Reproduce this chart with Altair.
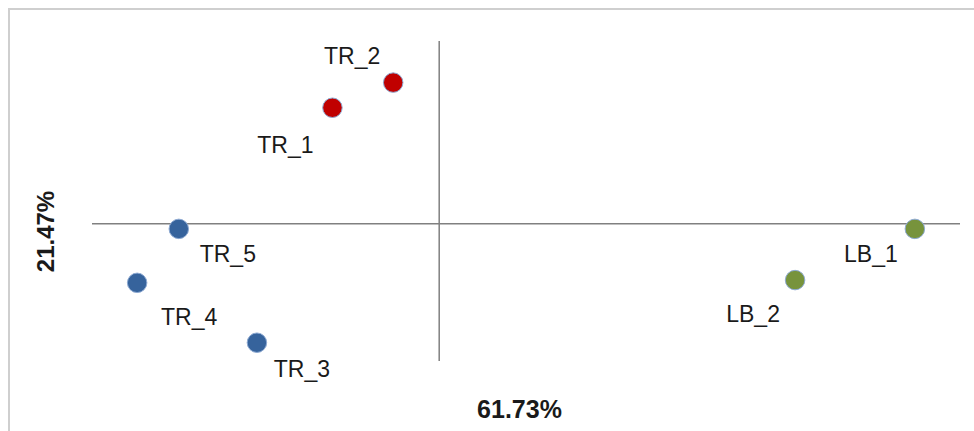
import altair as alt
import pandas as pd

# data (PC1 / PC2 scores, arbitrary units)
samples = ["TR_1", "TR_2", "TR_3", "TR_4", "TR_5", "LB_1", "LB_2"]
groups = ["TR_red", "TR_red", "TR_blue", "TR_blue", "TR_blue", "LB", "LB"]
pc1 = [-1.23, -0.53, -2.10, -3.48, -3.00, 5.48, 4.10]
pc2 = [2.54, 3.09, -2.60, -1.29, -0.11, -0.11, -1.23]

x_title = "61.73%"
y_title = "21.47%"

df = pd.DataFrame({"sample": samples, "group": groups, "pc1": pc1, "pc2": pc2})

# label offsets (style)
label_offsets = {
    "TR_1": (-47, 38),
    "TR_2": (-41, -26),
    "TR_3": (45, 27),
    "TR_4": (52, 35),
    "TR_5": (49, 26),
    "LB_1": (-44, 26),
    "LB_2": (-42, 35),
}

W, H = 868, 320
FONT = "Liberation Sans"

xs = alt.Scale(domain=[-4, 6], nice=False, zero=False)
ys = alt.Scale(domain=[-3, 4], nice=False, zero=False)

xa = alt.Axis(title=x_title, labels=False, ticks=False, domain=False, grid=False,
              titleFont=FONT, titleFontSize=25, titleFontWeight="bold",
              titleColor="#1a1a1a", titleX=427, titleY=56, titleBaseline="alphabetic")
ya = alt.Axis(title=y_title, labels=False, ticks=False, domain=False, grid=False,
              titleFont=FONT, titleFontSize=24, titleFontWeight="bold",
              titleColor="#1a1a1a", titleX=-46, titleY=190, titleBaseline="middle",
              titleAngle=270)

base = alt.Chart(df)

frame = alt.Chart(pd.DataFrame({"a": [0]})).mark_rect(
    fill=None, stroke="#cfcfcf", strokeWidth=2
).encode(x=alt.value(-83), x2=alt.value(W + 40), y=alt.value(-32), y2=alt.value(H + 90))

hline = alt.Chart(pd.DataFrame({"a": [0]})).mark_rule(color="#808080", strokeWidth=1.5).encode(
    y=alt.Y("a:Q", scale=ys, axis=ya)
)
vline = alt.Chart(pd.DataFrame({"a": [0]})).mark_rule(color="#808080", strokeWidth=1.5).encode(
    x=alt.X("a:Q", scale=xs, axis=xa)
)

points = base.mark_point(filled=True, size=380, opacity=1, strokeWidth=1).encode(
    x=alt.X("pc1:Q", scale=xs, axis=xa),
    y=alt.Y("pc2:Q", scale=ys, axis=ya),
    fill=alt.Fill("group:N", legend=None,
                  scale=alt.Scale(domain=["TR_red", "TR_blue", "LB"],
                                  range=["#C00000", "#36639C", "#77933C"])),
    stroke=alt.value("#8DA9D2"),
)

labels = []
for name in samples:
    dx, dy = label_offsets[name]
    labels.append(
        base.transform_filter(alt.datum.sample == name)
        .mark_text(font=FONT, fontSize=23, color="#1a1a1a", dx=dx, dy=dy,
                   align="center", baseline="middle")
        .encode(x=alt.X("pc1:Q", scale=xs, axis=xa),
                y=alt.Y("pc2:Q", scale=ys, axis=ya),
                text="sample:N")
    )

chart = alt.layer(frame, hline, vline, points, *labels).properties(
    width=W, height=H,
    background="white",
    autosize=alt.AutoSizeParams(type="none"),
    padding={"left": 92, "top": 41, "right": 14, "bottom": 70},
).configure_view(strokeWidth=0, stroke="transparent")

chart.save("out.html", embed_options={"renderer": "svg", "actions": False})
